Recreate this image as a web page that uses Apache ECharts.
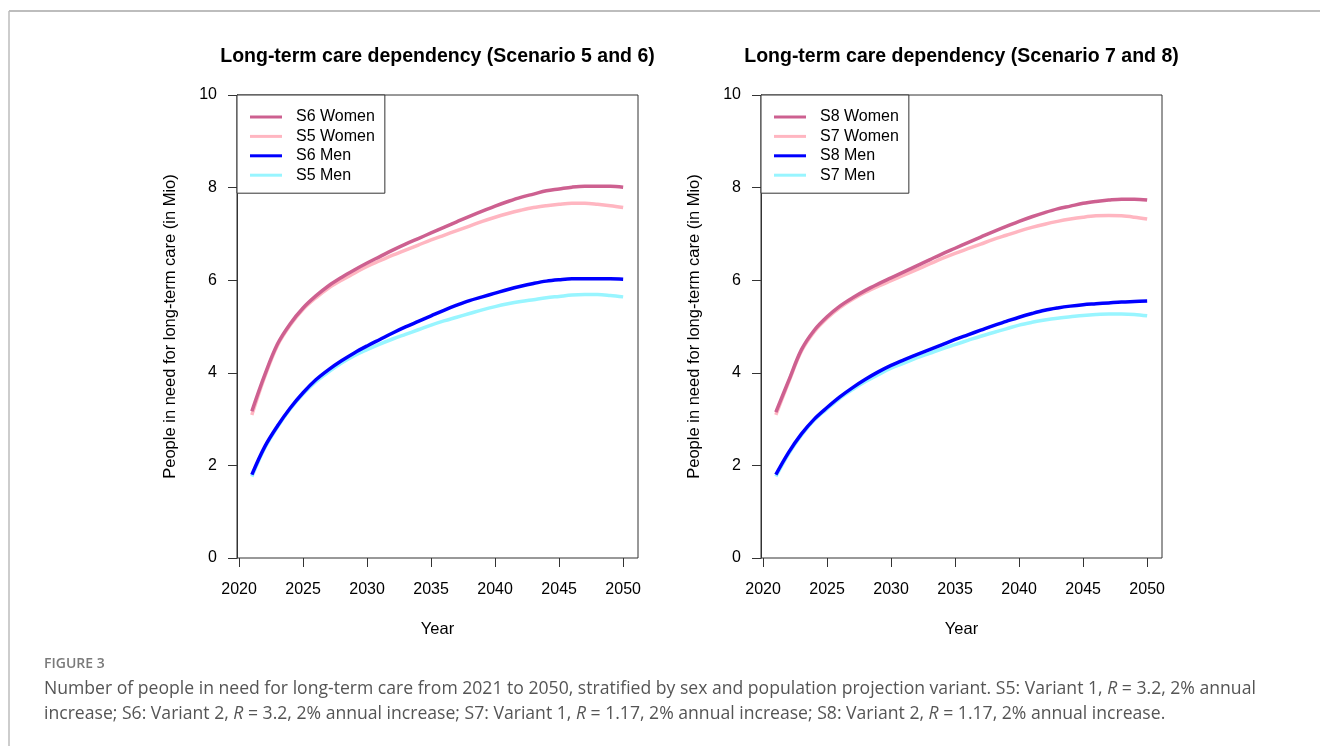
<!DOCTYPE html>
<html>
<head>
<meta charset="utf-8">
<script src="https://cdn.jsdelivr.net/npm/echarts@6/dist/echarts.min.js"></script>
<style>
html,body{margin:0;padding:0;background:#fff;}
#chart{width:1320px;height:746px;}
</style>
</head>
<body>
<div id="chart"></div>
<script>
// ---------- DATA ----------
const years = [2021,2022,2023,2024,2025,2026,2027,2028,2029,2030,2031,2032,2033,2034,2035,2036,2037,2038,2039,2040,2041,2042,2043,2044,2045,2046,2047,2048,2049,2050];
const xTicks = [2020,2025,2030,2035,2040,2045,2050];

// Left panel (Scenario 5 and 6)
const s6Women = [3.17,3.95,4.62,5.06,5.40,5.66,5.88,6.06,6.22,6.37,6.51,6.65,6.78,6.90,7.02,7.14,7.26,7.38,7.49,7.60,7.70,7.79,7.86,7.93,7.97,8.01,8.03,8.03,8.03,8.01];
const s5Women = [3.09,3.91,4.59,5.03,5.37,5.62,5.83,6.00,6.15,6.30,6.42,6.54,6.65,6.76,6.87,6.97,7.07,7.17,7.27,7.36,7.44,7.51,7.57,7.61,7.64,7.66,7.66,7.64,7.61,7.57];
const s6Men   = [1.80,2.40,2.85,3.24,3.57,3.85,4.07,4.26,4.43,4.58,4.72,4.86,4.99,5.11,5.23,5.35,5.46,5.56,5.64,5.72,5.80,5.87,5.93,5.98,6.01,6.03,6.03,6.03,6.03,6.02];
const s5Men   = [1.76,2.37,2.83,3.22,3.54,3.81,4.02,4.21,4.37,4.50,4.62,4.73,4.83,4.93,5.03,5.12,5.20,5.28,5.36,5.43,5.49,5.54,5.58,5.62,5.65,5.68,5.69,5.69,5.67,5.64];

// Right panel (Scenario 7 and 8)
const s8Women = [3.15,3.83,4.50,4.92,5.21,5.44,5.62,5.78,5.92,6.05,6.18,6.31,6.44,6.57,6.69,6.81,6.93,7.05,7.16,7.27,7.37,7.46,7.54,7.60,7.66,7.70,7.73,7.75,7.75,7.73];
const s7Women = [3.09,3.80,4.47,4.89,5.18,5.41,5.59,5.74,5.87,5.99,6.11,6.23,6.35,6.47,6.58,6.68,6.78,6.88,6.97,7.06,7.14,7.21,7.27,7.32,7.36,7.39,7.40,7.39,7.36,7.32];
const s8Men   = [1.80,2.28,2.68,3.00,3.25,3.48,3.68,3.86,4.02,4.16,4.28,4.39,4.50,4.61,4.72,4.82,4.92,5.02,5.11,5.20,5.28,5.35,5.40,5.44,5.47,5.49,5.51,5.53,5.54,5.55];
const s7Men   = [1.76,2.25,2.65,2.98,3.22,3.45,3.64,3.81,3.96,4.10,4.21,4.32,4.42,4.52,4.61,4.70,4.79,4.87,4.95,5.03,5.09,5.14,5.18,5.21,5.24,5.26,5.27,5.27,5.26,5.23];

const leftTitle = 'Long-term care dependency (Scenario 5 and 6)';
const rightTitle = 'Long-term care dependency (Scenario 7 and 8)';
const yName = 'People in need for long-term care (in Mio)';
const xName = 'Year';
const figLabel = 'FIGURE 3';
const caption1 = 'Number of people in need for long-term care from 2021 to 2050, stratified by sex and population projection variant. S5: Variant 1, {i|R} = 3.2, 2% annual';
const caption2 = 'increase; S6: Variant 2, {i|R} = 3.2, 2% annual increase; S7: Variant 1, {i|R} = 1.17, 2% annual increase; S8: Variant 2, {i|R} = 1.17, 2% annual increase.';

// ---------- STYLE ----------
const FONT = '"Liberation Sans", Arial, Helvetica, sans-serif';
const CAPFONT = '"Open Sans", "Noto Sans", sans-serif';
const C_DARKPINK = '#CD6090';
const C_LIGHTPINK = '#FFB6C1';
const C_BLUE = '#0000FF';
const C_CYAN = '#98F5FF';

const pairs = v => years.map((y, i) => [y, v[i]]);

function xAxisFor(gi) {
  return {
    gridIndex: gi, type: 'value', min: 2019.84, max: 2051.16,
    name: xName, nameLocation: 'middle', nameGap: 63,
    nameTextStyle: {fontFamily: FONT, fontSize: 16.5, color: '#000'},
    axisLine: {show: false},
    axisTick: {show: true, inside: false, length: 9, customValues: xTicks, lineStyle: {color: '#333', width: 1}},
    axisLabel: {show: true, customValues: xTicks, margin: 24, fontFamily: FONT, fontSize: 16, color: '#000',
      formatter: v => String(v)},
    splitLine: {show: false}
  };
}
function yAxisFor(gi) {
  return {
    gridIndex: gi, type: 'value', min: 0, max: 10, interval: 2,
    name: yName, nameLocation: 'middle', nameGap: 58, nameRotate: 90,
    nameTextStyle: {fontFamily: FONT, fontSize: 16.5, color: '#000'},
    axisLine: {show: true, lineStyle: {color: '#333', width: 1}},
    axisTick: {show: true, inside: false, length: 9, lineStyle: {color: '#333', width: 1}},
    axisLabel: {margin: 20, fontFamily: FONT, fontSize: 16, color: '#000', formatter: v => String(v)},
    splitLine: {show: false}
  };
}
function line(name, data, color, gi) {
  return {
    type: 'line', name: name, data: pairs(data), xAxisIndex: gi, yAxisIndex: gi,
    symbol: 'none', smooth: 0.35, lineStyle: {color: color, width: 3.5}, itemStyle: {color: color},
    emphasis: {disabled: true}, animation: false
  };
}
function legendFor(left, names) {
  return {
    left: left, top: 95, orient: 'vertical', data: names, selectedMode: false,
    icon: 'rect',
    backgroundColor: '#fff', borderColor: '#333', borderWidth: 1, borderRadius: 0,
    padding: [14, 10, 10, 13], itemWidth: 32, itemHeight: 3, itemGap: 3.4,
    textStyle: {fontFamily: FONT, fontSize: 16, color: '#000', padding: [0, 0, 0, 9]}
  };
}

function captionLine(text, y) {
  return {
    type: 'text', x: 44, y: y, silent: true,
    style: {
      text: text, fill: '#555', font: '17.6px ' + CAPFONT, textVerticalAlign: 'middle',
      rich: {i: {fontStyle: 'italic', fontFamily: CAPFONT, fontSize: 17.6, fill: '#555'}}
    }
  };
}

const chart = echarts.init(document.getElementById('chart'), null, {renderer: 'canvas'});
chart.setOption({
  backgroundColor: '#fff',
  animation: false,
  grid: [
    {left: 237, top: 95, width: 401, height: 463, show: true, borderColor: '#333', borderWidth: 1, backgroundColor: 'transparent'},
    {left: 761, top: 95, width: 401, height: 463, show: true, borderColor: '#333', borderWidth: 1, backgroundColor: 'transparent'}
  ],
  xAxis: [xAxisFor(0), xAxisFor(1)],
  yAxis: [yAxisFor(0), yAxisFor(1)],
  legend: [
    legendFor(237, ['S6 Women', 'S5 Women', 'S6 Men', 'S5 Men']),
    legendFor(761, ['S8 Women', 'S7 Women', 'S8 Men', 'S7 Men'])
  ],
  series: [
    line('S5 Women', s5Women, C_LIGHTPINK, 0),
    line('S6 Women', s6Women, C_DARKPINK, 0),
    line('S5 Men', s5Men, C_CYAN, 0),
    line('S6 Men', s6Men, C_BLUE, 0),
    line('S7 Women', s7Women, C_LIGHTPINK, 1),
    line('S8 Women', s8Women, C_DARKPINK, 1),
    line('S7 Men', s7Men, C_CYAN, 1),
    line('S8 Men', s8Men, C_BLUE, 1)
  ],
  graphic: [
    {type: 'line', silent: true, shape: {x1: 9, y1: 11, x2: 1320, y2: 11}, style: {stroke: '#bdbdbd', lineWidth: 2}},
    {type: 'line', silent: true, shape: {x1: 9, y1: 11, x2: 9, y2: 746}, style: {stroke: '#bdbdbd', lineWidth: 1.5}},
    {type: 'text', x: 437.5, y: 57, silent: true,
      style: {text: leftTitle, fill: '#000', font: 'bold 19.5px ' + FONT, textAlign: 'center', textVerticalAlign: 'middle'}},
    {type: 'text', x: 961.5, y: 57, silent: true,
      style: {text: rightTitle, fill: '#000', font: 'bold 19.5px ' + FONT, textAlign: 'center', textVerticalAlign: 'middle'}},
    {type: 'text', x: 44, y: 664, silent: true,
      style: {text: figLabel, fill: '#7a7a7a', font: '600 14px ' + CAPFONT, textVerticalAlign: 'middle'}},
    captionLine(caption1, 689),
    captionLine(caption2, 714)
  ]
});
</script>
</body>
</html>
